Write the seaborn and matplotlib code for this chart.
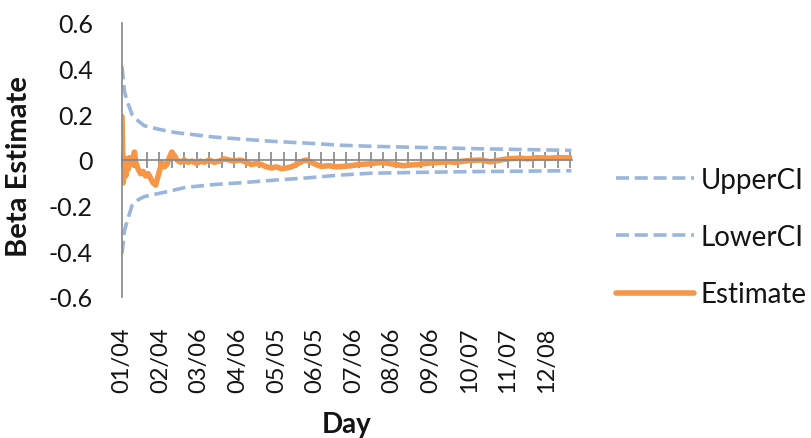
import numpy as np
import pandas as pd
import matplotlib
matplotlib.use("Agg")
import matplotlib.pyplot as plt
import seaborn as sns

sns.set_theme(style="white")
plt.rcParams["font.family"] = ["Lato", "DejaVu Sans"]

# Trading-day index labels shown along the bottom
label_days = [0, 31, 62, 93, 124, 155, 186, 217, 248, 279, 310, 341]
day_labels = ["01/04", "02/04", "03/06", "04/06", "05/05", "06/05",
              "07/06", "08/06", "09/06", "10/07", "11/07", "12/08"]

# Confidence bounds
upper_days = [0, 2, 4, 8, 11, 18, 30, 43, 59, 75, 95, 120, 145, 175, 200, 240, 280, 320, 361]
upper_ci = [0.41, 0.30, 0.26, 0.20, 0.18, 0.15, 0.134, 0.12, 0.11, 0.10, 0.092, 0.082,
            0.075, 0.065, 0.06, 0.055, 0.05, 0.046, 0.042]
lower_days = [0, 2, 4, 8, 11, 18, 35, 51, 75, 95, 125, 150, 175, 200, 240, 280, 320, 361]
lower_ci = [-0.41, -0.31, -0.27, -0.20, -0.18, -0.16, -0.14, -0.12, -0.107, -0.10, -0.087,
            -0.078, -0.066, -0.058, -0.054, -0.051, -0.049, -0.047]

# Running beta estimate
est_days = [0, 1, 2, 3, 4, 5, 6, 8, 10, 11, 13, 15, 17, 19, 21, 23, 25, 27, 28, 30,
            32, 34, 36, 38, 40, 42, 44, 47, 50, 53, 56, 60, 63, 66, 70, 74, 78, 82, 86, 90,
            95, 100, 104, 108, 112, 116, 120, 124, 128, 132, 136, 140, 145, 148, 152, 156,
            160, 166, 172, 178, 184, 190, 196, 202, 208, 214, 220, 226, 232, 238, 244, 250,
            256, 262, 268, 274, 280, 288, 296, 300, 306, 312, 320, 326, 334, 342, 350, 358, 361]
estimate = [0.19, -0.10, 0.01, -0.07, 0.00, -0.04, 0.01, -0.02, 0.035, -0.01, -0.04, -0.06,
            -0.05, -0.07, -0.06, -0.08, -0.10, -0.11, -0.09, -0.05,
            -0.01, -0.03, -0.02, 0.01, 0.035, 0.02, 0.00, -0.01, 0.00, -0.01, -0.005, -0.015,
            -0.005, -0.01, 0.0, -0.01, -0.005, 0.005, 0.0, -0.005,
            0.0, -0.01, -0.02, -0.015, -0.02, -0.03, -0.035, -0.03, -0.038, -0.035, -0.03,
            -0.02, -0.005, 0.0, -0.01, -0.02,
            -0.028, -0.025, -0.03, -0.028, -0.025, -0.02, -0.018, -0.015, -0.01, -0.015,
            -0.02, -0.025, -0.022, -0.02, -0.015, -0.012,
            -0.01, -0.008, -0.01, -0.005, -0.002, 0.0, -0.008, -0.004, 0.002, 0.006, 0.008,
            0.005, 0.01, 0.008, 0.01, 0.01, 0.008]

blue = "#9ab6dc"
orange = "#f79646"
grey = "#868686"
ink = "#141414"

fig = plt.figure(figsize=(8.12, 4.39), dpi=100)
ax = fig.add_axes([122 / 812, 1 - 298 / 439, 450 / 812, 274 / 439])

up_df = pd.DataFrame({"day": upper_days, "value": upper_ci})
lo_df = pd.DataFrame({"day": lower_days, "value": lower_ci})
est_df = pd.DataFrame({"day": est_days, "value": estimate})

sns.lineplot(data=up_df, x="day", y="value", ax=ax, color=blue, lw=2.6,
             label="UpperCI", dashes=False)
sns.lineplot(data=lo_df, x="day", y="value", ax=ax, color=blue, lw=2.6,
             label="LowerCI", dashes=False)
sns.lineplot(data=est_df, x="day", y="value", ax=ax, color=orange, lw=4.0,
             label="Estimate", dashes=False)
for ln in ax.lines[:2]:
    ln.set_dashes((3.6, 1.6))

ax.set_xlim(0, 361.5)
ax.set_ylim(-0.6, 0.6)

# Category axis drawn through zero with crossing tick marks
ax.spines["bottom"].set_position(("data", 0))
ax.spines["bottom"].set_color(grey)
ax.spines["bottom"].set_linewidth(1.2)
ax.spines["left"].set_color(grey)
ax.spines["left"].set_linewidth(1.2)
ax.spines["top"].set_visible(False)
ax.spines["right"].set_visible(False)
ax.set_xticks(np.arange(0, 361, 10))
ax.tick_params(axis="x", direction="inout", length=12, width=1.2, color=grey,
               labelbottom=False, bottom=True)

yt = [0.6, 0.4, 0.2, 0, -0.2, -0.4, -0.6]
ax.set_yticks(yt, labels=["0.6", "0.4", "0.2", "0", "-0.2", "-0.4", "-0.6"])
ax.tick_params(axis="y", length=0, pad=21, labelsize=18, labelcolor=ink)

sec = ax.secondary_xaxis("bottom")
sec.set_xticks(label_days, labels=day_labels)
sec.tick_params(length=0, pad=21, labelsize=17, labelrotation=90, labelcolor=ink)
sec.spines["bottom"].set_visible(False)

ax.set_ylabel("Beta Estimate", fontsize=21, fontweight="bold", color=ink)
ax.yaxis.set_label_coords(-0.2, 0.48)
ax.set_xlabel("")
fig.text(347 / 812, 1 - 425 / 439, "Day", ha="center", va="center",
         fontsize=20, fontweight="bold", color=ink)

handles, labels = ax.get_legend_handles_labels()
ax.legend(handles, labels, loc="upper left", bbox_to_anchor=(616 / 812, 1 - 168 / 439),
          bbox_transform=fig.transFigure, frameon=False, fontsize=20,
          handlelength=2.8, handletextpad=0.25, labelspacing=1.12,
          borderpad=0, borderaxespad=0, labelcolor=ink)

fig.savefig("out.png", dpi=100)
